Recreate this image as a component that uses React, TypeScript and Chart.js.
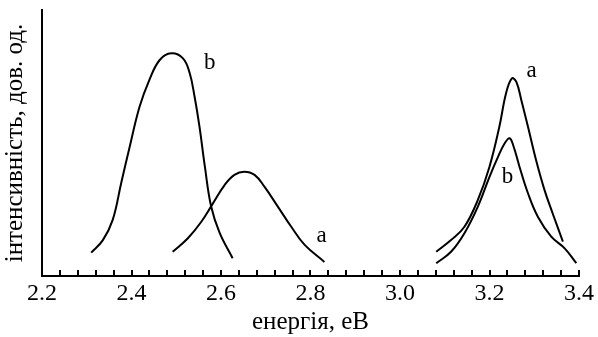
import React, { useEffect, useRef } from "react";
import { Chart, registerables } from "chart.js";

Chart.register(...registerables);

// Energy ticks
const xMin = 2.2;
const xMax = 3.4;
const minorStep = 0.04;
const majorStep = 0.2;

const xTitle = "енергія, еВ";
const yTitle = "інтенсивність, дов. од.";

// Left band, curve b
const bLeftX = [2.31, 2.336, 2.358, 2.377, 2.396, 2.418, 2.44, 2.463, 2.489, 2.515, 2.53, 2.541, 2.552, 2.564, 2.578, 2.597, 2.626];
const bLeftY = [8.8, 13.5, 21.1, 35.0, 48.6, 63.6, 73.7, 81.2, 83.7, 81.8, 76.3, 67.4, 56.1, 41.1, 26.1, 16.2, 6.7];

// Left band, curve a
const aLeftX = [2.492, 2.526, 2.556, 2.582, 2.608, 2.63, 2.652, 2.675, 2.697, 2.727, 2.757, 2.787, 2.831];
const aLeftY = [9.1, 14.2, 20.4, 27.3, 34.2, 38.0, 39.2, 38.0, 33.6, 26.1, 18.5, 11.7, 5.3];

// Right band, curve a
const aRightX = [3.081, 3.114, 3.144, 3.174, 3.2, 3.222, 3.237, 3.25, 3.26, 3.271, 3.286, 3.304, 3.323, 3.341, 3.364];
const aRightY = [9.1, 13.5, 18.5, 28.6, 41.1, 56.1, 68.7, 74.3, 73.0, 66.2, 56.1, 43.6, 32.3, 23.6, 12.9];

// Right band, curve b
const bRightX = [3.081, 3.114, 3.144, 3.174, 3.2, 3.219, 3.234, 3.245, 3.254, 3.267, 3.286, 3.308, 3.338, 3.368, 3.394];
const bRightY = [4.8, 9.1, 16.1, 26.1, 37.3, 44.8, 49.9, 51.8, 48.6, 41.1, 31.1, 22.3, 14.8, 10.4, 4.8];

// Curve labels (text, x, y in data units)
const labelTexts = ["b", "a", "a", "b"];
const labelX = [2.575, 2.825, 3.294, 3.24];
const labelY = [80, 15, 77, 37.2];

const FONT = "'Liberation Serif', 'Times New Roman', serif";

const zip = (xs: number[], ys: number[]) => xs.map((x, i) => ({ x, y: ys[i] }));

const innerTicksPlugin = {
  id: "innerTicks",
  afterDraw(chart: any) {
    const { ctx, chartArea } = chart;
    const xs = chart.scales.x;
    const ys = chart.scales.y;
    ctx.save();
    ctx.strokeStyle = "#000";
    ctx.lineWidth = 2;
    for (const t of xs.ticks) {
      const px = Math.round(xs.getPixelForValue(t.value));
      ctx.beginPath();
      ctx.moveTo(px, chartArea.bottom);
      ctx.lineTo(px, chartArea.bottom - 6);
      ctx.stroke();
    }
    ctx.fillStyle = "#000";
    ctx.font = `23px ${FONT}`;
    ctx.textAlign = "center";
    ctx.textBaseline = "middle";
    labelTexts.forEach((txt, i) => {
      ctx.fillText(txt, xs.getPixelForValue(labelX[i]), ys.getPixelForValue(labelY[i]));
    });
    ctx.restore();
  },
};

export default function App() {
  const canvasRef = useRef<HTMLCanvasElement | null>(null);

  useEffect(() => {
    if (!canvasRef.current) return;
    const lineStyle = {
      borderColor: "#000",
      borderWidth: 2,
      pointRadius: 0,
      fill: false,
      tension: 0.4,
    };
    const chart = new Chart(canvasRef.current, {
      type: "line",
      data: {
        datasets: [
          { ...lineStyle, label: "b", data: zip(bLeftX, bLeftY) },
          { ...lineStyle, label: "a", data: zip(aLeftX, aLeftY) },
          { ...lineStyle, label: "a", data: zip(aRightX, aRightY) },
          { ...lineStyle, label: "b", data: zip(bRightX, bRightY) },
        ],
      },
      options: {
        animation: false,
        responsive: true,
        maintainAspectRatio: false,
        layout: { padding: { top: 10, right: 19, left: 0, bottom: 0 } },
        plugins: { legend: { display: false }, tooltip: { enabled: false } },
        scales: {
          x: {
            type: "linear",
            min: xMin,
            max: xMax,
            afterFit: (s: any) => {
              s.height = 61;
            },
            grid: { display: false, drawTicks: false },
            border: { display: true, color: "#000", width: 2 },
            ticks: {
              stepSize: minorStep,
              autoSkip: false,
              maxRotation: 0,
              padding: 3,
              color: "#000",
              font: { family: FONT, size: 24 },
              callback: (v: any) => {
                const n = Number(v) / majorStep;
                return Math.abs(n - Math.round(n)) < 1e-6 ? Number(v).toFixed(1) : "";
              },
            },
            title: {
              display: true,
              text: xTitle,
              color: "#000",
              font: { family: FONT, size: 25 },
              padding: { top: 0, bottom: 0 },
            },
          },
          y: {
            type: "linear",
            min: 0,
            max: 100,
            afterFit: (s: any) => {
              s.width = 42;
            },
            grid: { display: false, drawTicks: false },
            border: { display: true, color: "#000", width: 2 },
            ticks: { display: false },
            title: {
              display: true,
              text: yTitle,
              color: "#000",
              font: { family: FONT, size: 25 },
              padding: { top: 0, bottom: 0 },
            },
          },
        },
      },
      plugins: [innerTicksPlugin],
    });
    return () => chart.destroy();
  }, []);

  return (
    <div style={{ position: "fixed", left: 0, top: 0, width: 598, height: 337, background: "#fff" }}>
      <canvas ref={canvasRef} />
    </div>
  );
}
